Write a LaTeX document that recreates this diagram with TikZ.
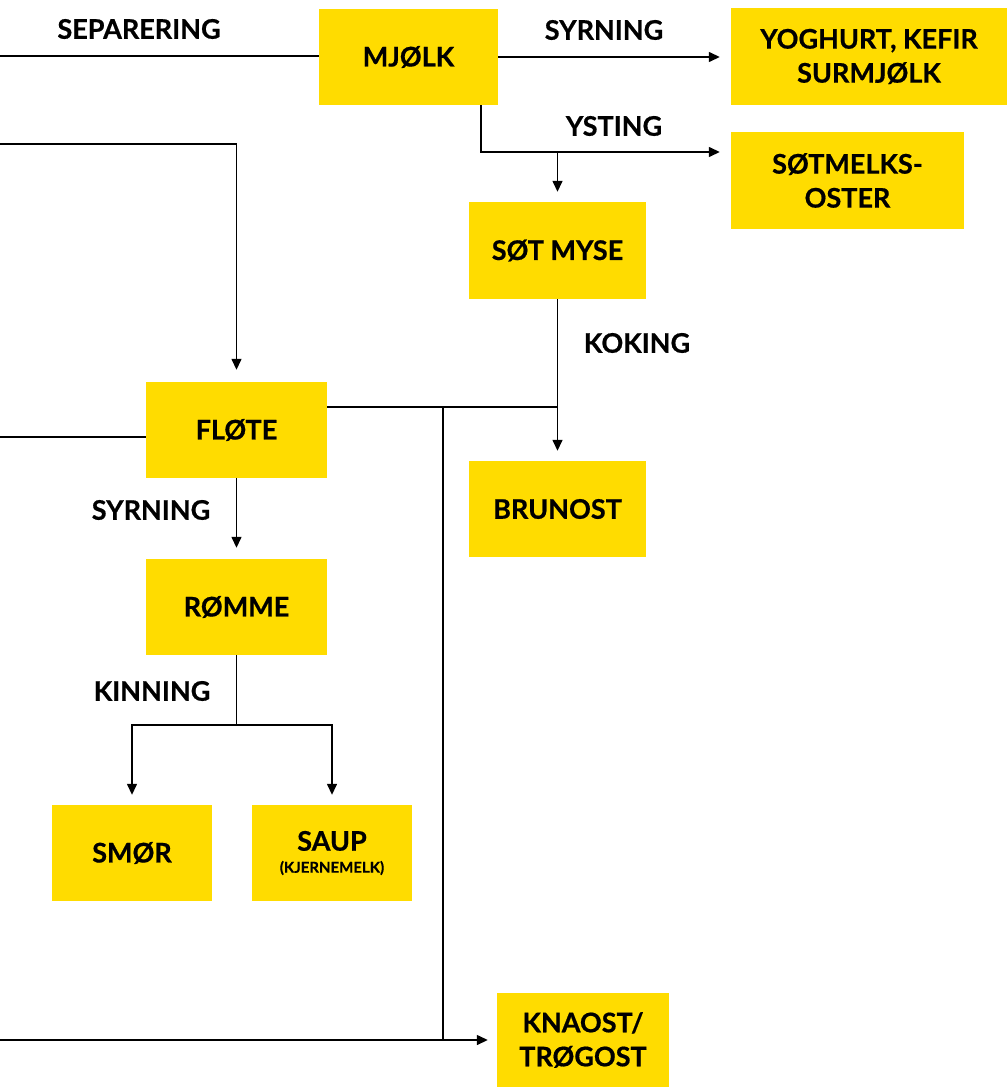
\documentclass[tikz,border=0pt]{standalone}
\usepackage{fontspec}
\setmainfont{Lato}[BoldFeatures={FakeBold=0.6}]
\usetikzlibrary{arrows.meta}
\definecolor{boxyellow}{RGB}{255,220,0}
\tikzset{
  box/.style={fill=boxyellow, inner sep=0pt, align=center, font=\fontsize{27}{34}\selectfont\bfseries},
  lbl/.style={inner sep=0pt, font=\fontsize{27}{34}\selectfont\bfseries},
  conn/.style={line width=1.4pt, black},
  arr/.style={conn, -{Triangle[length=11pt,width=10pt]}}
}
\begin{document}
\begin{tikzpicture}[x=1pt,y=-1pt]
\useasboundingbox (0,0) rectangle (1008,1087);
% boxes
\node[box, minimum width=179pt, minimum height=96pt] (mjolk) at (408.5,57) {MJØLK};
\node[box, minimum width=276pt, minimum height=97pt] (yog) at (869,56.5) {YOGHURT, KEFIR\\SURMJØLK};
\node[box, minimum width=233pt, minimum height=97pt] (sot) at (847.5,180.5) {SØTMELKS-\\OSTER};
\node[box, minimum width=177pt, minimum height=97pt] (myse) at (557.5,250.5) {SØT MYSE};
\node[box, minimum width=181pt, minimum height=96pt] (flote) at (236.5,430) {FLØTE};
\node[box, minimum width=177pt, minimum height=96pt] (brun) at (557.5,509) {BRUNOST};
\node[box, minimum width=181pt, minimum height=96pt] (romme) at (236.5,607) {RØMME};
\node[box, minimum width=160pt, minimum height=96pt] (smor) at (132,853) {SMØR};
\node[box, minimum width=160pt, minimum height=96pt] (saup) at (332,853) {SAUP\\[-12pt]{\fontsize{15}{17}\selectfont (KJERNEMELK)}};
\node[box, minimum width=172pt, minimum height=94pt] (knaost) at (583,1040) {KNAOST/\\TRØGOST};
% labels
\node[lbl] (lsep) at (139,29) {SEPARERING};
\node[lbl] (lsyr1) at (604,30) {SYRNING};
\node[lbl] (lyst) at (614,126) {YSTING};
\node[lbl] (lkok) at (637,343) {KOKING};
\node[lbl] (lsyr2) at (151,510) {SYRNING};
\node[lbl] (lkin) at (152,691) {KINNING};
% coordinates
\coordinate (sepL) at (0,56);
\coordinate (j1) at (481,152);
\coordinate (j2) at (557.5,152);
\coordinate (fin) at (0,144);
\coordinate (fw) at (0,437);
\coordinate (j3) at (557.5,407);
\coordinate (j4) at (443,407);
\coordinate (j5) at (443,1040);
\coordinate (kin) at (0,1040);
\coordinate (j6) at (236.5,725);
% connectors
\draw[conn] (sepL) -- (sepL -| mjolk.west);
\draw[arr, shorten >=11pt] (mjolk.east) -- (mjolk.east -| yog.west);
\draw[arr, shorten >=11pt] (mjolk.south -| j1) -- (j1) -- (j1 -| sot.west);
\draw[arr, shorten >=10pt] (j2) -- (myse.north);
\draw[arr, shorten >=12pt] (fin) -| (flote.north);
\draw[conn] (fw) -- (fw -| flote.west);
\draw[conn] (flote.east |- j3) -- (j3);
\draw[arr, shorten >=10pt] (myse.south) -- (brun.north);
\draw[conn] (j4) -- (j5);
\draw[arr, shorten >=9pt] (kin) -- (knaost.west);
\draw[arr, shorten >=11pt] (flote.south) -- (romme.north);
\draw[conn] (romme.south) -- (j6);
\draw[arr, shorten >=10pt] (j6) -| (smor.north);
\draw[arr, shorten >=10pt] (j6) -| (saup.north);
\end{tikzpicture}
\end{document}
